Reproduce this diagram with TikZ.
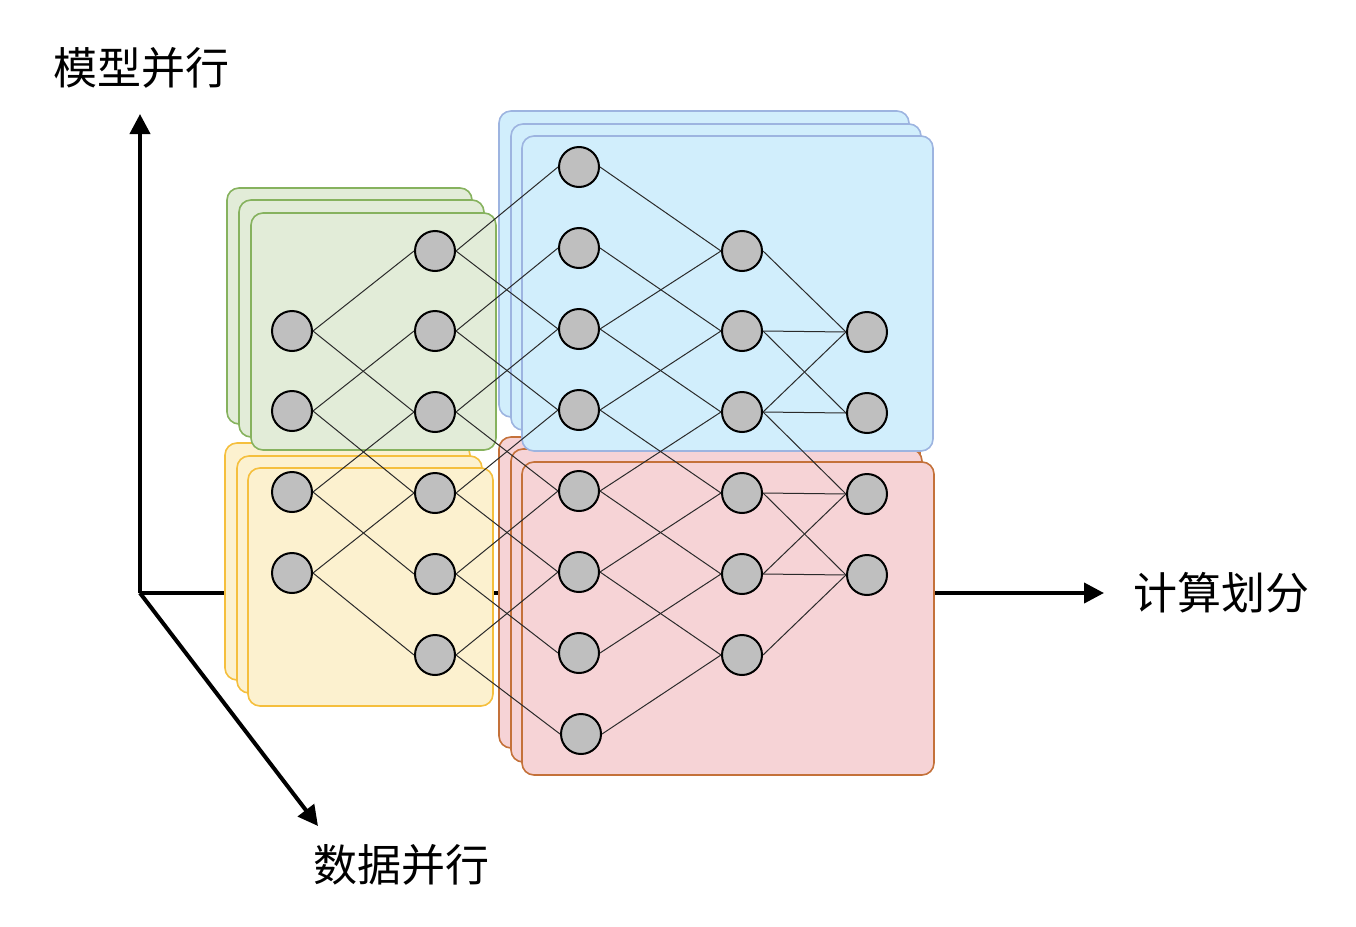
\documentclass[tikz,border=0pt]{standalone}
\usepackage{fontspec}
\newfontfamily\cjk{Noto Sans CJK SC}
\usetikzlibrary{arrows.meta}
\definecolor{gfill}{HTML}{E2ECD8}
\definecolor{gstroke}{HTML}{86B25E}
\definecolor{yfill}{HTML}{FCF1CF}
\definecolor{ystroke}{HTML}{F5BF3D}
\definecolor{bfill}{HTML}{D1EEFC}
\definecolor{bstroke}{HTML}{9DB4E0}
\definecolor{rfill}{HTML}{F6D3D6}
\definecolor{rstroke}{HTML}{C4713A}
\definecolor{nfill}{HTML}{BFBFBF}
\definecolor{edgec}{HTML}{2A2A2A}
\tikzset{
  card/.style={rounded corners=12pt, line width=1.6pt},
  neuron/.style={circle, draw=black, line width=2pt, fill=nfill, minimum size=40pt, inner sep=0pt},
  link/.style={draw=edgec, line width=1pt},
  axis/.style={line width=4pt, -{Triangle[length=20pt,width=20pt]}},
  lbl/.style={font=\cjk\fontsize{44}{44}\selectfont, inner sep=0pt}
}
\begin{document}
\begin{tikzpicture}[x=1pt,y=-1pt]
\useasboundingbox (0,0) rectangle (1356,926);
% axes
\coordinate (o) at (140,593);
\coordinate (up) at (140,114);
\coordinate (rt) at (1104,593);
\coordinate (dg) at (318,826);
\draw[axis] (o) -- (up);
\draw[axis] (o) -- (rt);
\draw[axis] (o) -- (dg);
% yellow stack
\draw[card, fill=yfill, draw=ystroke] (225,443) rectangle (470,680);
\draw[card, fill=yfill, draw=ystroke] (237,456) rectangle (482,693);
\draw[card, fill=yfill, draw=ystroke] (248,468) rectangle (493,706);
% green stack
\draw[card, fill=gfill, draw=gstroke] (227,188) rectangle (472,424);
\draw[card, fill=gfill, draw=gstroke] (239,200) rectangle (484,437);
\draw[card, fill=gfill, draw=gstroke] (251,213) rectangle (496,450);
% red stack
\draw[card, fill=rfill, draw=rstroke] (499,437) rectangle (920,748);
\draw[card, fill=rfill, draw=rstroke] (511,449) rectangle (922,762);
\draw[card, fill=rfill, draw=rstroke] (522,462) rectangle (934,775);
% blue stack
\draw[card, fill=bfill, draw=bstroke] (499,111) rectangle (909,417);
\draw[card, fill=bfill, draw=bstroke] (511,124) rectangle (921,430);
\draw[card, fill=bfill, draw=bstroke] (522,136) rectangle (933,451);
% neurons
\foreach \i/\y in {0/331,1/411,2/492,3/573} \node[neuron] (a\i) at (292,\y) {};
\foreach \i/\y in {0/251,1/331,2/412,3/493,4/574,5/655} \node[neuron] (b\i) at (435,\y) {};
\foreach \i/\y in {0/167,1/248,2/329,3/410,4/491,5/572,6/653} \node[neuron] (c\i) at (579,\y) {};
\node[neuron] (c7) at (581,734) {};
\foreach \i/\y in {0/251,1/331,2/412,3/493,4/574,5/655} \node[neuron] (d\i) at (742,\y) {};
\foreach \i/\y in {0/332,1/413,2/494,3/575} \node[neuron] (e\i) at (867,\y) {};
% links
\foreach \i in {0,...,3} {
  \pgfmathtruncatemacro{\j}{\i+2}
  \draw[link] (a\i.east) -- (b\i.west);
  \draw[link] (a\i.east) -- (b\j.west);
}
\foreach \i in {0,...,5} {
  \pgfmathtruncatemacro{\j}{\i+2}
  \draw[link] (b\i.east) -- (c\i.west);
  \draw[link] (b\i.east) -- (c\j.west);
}
\foreach \i in {0,...,5} {
  \pgfmathtruncatemacro{\j}{\i+2}
  \draw[link] (c\i.east) -- (d\i.west);
  \draw[link] (c\j.east) -- (d\i.west);
}
\foreach \p/\q in {0/0,1/0,1/1,2/0,2/1,2/2,3/2,3/3,4/2,4/3,5/3}
  \draw[link] (d\p.east) -- (e\q.west);
% labels
\node[lbl] (t1) at (141,68) {模型并行};
\node[lbl] (t2) at (1221,593) {计算划分};
\node[lbl] (t3) at (401,865) {数据并行};
\end{tikzpicture}
\end{document}
